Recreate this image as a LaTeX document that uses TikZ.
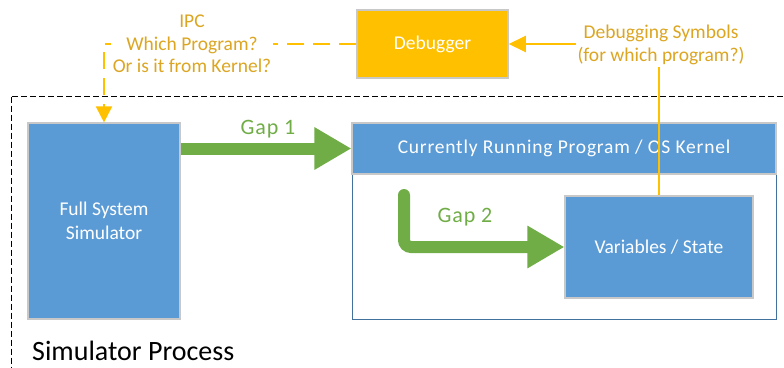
\documentclass[tikz,border=0pt]{standalone}
\usepackage{fontspec}
\setmainfont{Carlito}
\usetikzlibrary{arrows.meta}
\definecolor{boxblue}{HTML}{5B9BD5}
\definecolor{frameblue}{HTML}{41719C}
\definecolor{dbgorange}{HTML}{FFC000}
\definecolor{ipcgold}{HTML}{DCA622}
\definecolor{gapgreen}{HTML}{70AD47}
\definecolor{edgegray}{HTML}{C8C8C8}
\tikzset{
  bluebox/.style={draw=edgegray, line width=1.2pt, fill=boxblue, text=white,
    inner sep=0pt, align=center, font=\fontsize{19.5}{24}\selectfont},
  goldlabel/.style={fill=white, text=ipcgold, align=center, inner sep=2pt,
    font=\fontsize{19.5}{22.5}\selectfont},
  gaplabel/.style={text=gapgreen, font=\fontsize{22}{26}\selectfont\addfontfeatures{LetterSpace=4}},
  gaparrow/.style={draw=gapgreen, line width=12pt,
    -{Triangle[length=37pt,width=40pt]}},
  goldline/.style={draw=dbgorange, line width=2pt}
}
\begin{document}
\begin{tikzpicture}[x=1pt, y=-1pt]
\useasboundingbox (0,0) rectangle (784,367);

% simulator process boundary (runs off the page)
\begin{scope}
  \clip (0,0) rectangle (784,367);
  \draw[line width=1.2pt, dash pattern=on 6pt off 3pt] (11.5,96.5) rectangle (800,400);
\end{scope}

% main boxes
\node[bluebox, minimum width=152pt, minimum height=196pt] (sim) at (104,221)
  {Full System\\Simulator};
\node[draw=frameblue, line width=1pt, minimum width=424pt, minimum height=145pt,
  inner sep=0pt] (frame) at (564,246.5) {};
\node[bluebox, minimum width=424pt, minimum height=51pt,
  font=\fontsize{19.5}{24}\selectfont\addfontfeatures{LetterSpace=4}]
  (bar) at (564,148.5) {Currently Running Program / OS Kernel};
\node[bluebox, minimum width=188pt, minimum height=102pt] (var) at (659,247)
  {Variables / State};
\node[draw=edgegray, line width=1.5pt, fill=dbgorange, text=white, inner sep=0pt,
  minimum width=151pt, minimum height=68pt, font=\fontsize{19.5}{24}\selectfont]
  (dbg) at (432.5,44) {Debugger};

% IPC link from the debugger down to the simulator
\draw[goldline, dash pattern=on 17pt off 9pt,
  -{Triangle[length=16pt,width=16pt]}]
  (dbg.west) -| (sim.north);
\node[goldlabel] (ipc) at (192,44) {IPC\\Which Program?\\Or is it from Kernel?};

% debugging symbols flowing from program state to the debugger
\draw[goldline, -{Triangle[length=17pt,width=16pt]}]
  (var.north -| 659,0) |- (dbg.east);
\node[goldlabel] (sym) at (661,45) {Debugging Symbols\\(for which program?)};

% semantic gaps
\draw[gaparrow] (sim.east |- bar.west) -- (bar.west);
\node[gaplabel] (gap1) at (268,129) {Gap 1};
\coordinate (g2) at (404,195);
\draw[gaparrow, rounded corners=7pt] (g2) |- (var.west);
\draw[draw=gapgreen, line width=12pt, line cap=round] (g2) -- (404,196);
\node[gaplabel] (gap2) at (465,217) {Gap 2};

% process label
\node[anchor=base west, font=\fontsize{28}{32}\selectfont, inner sep=0pt]
  (proc) at (32,360) {Simulator Process};
\end{tikzpicture}
\end{document}
